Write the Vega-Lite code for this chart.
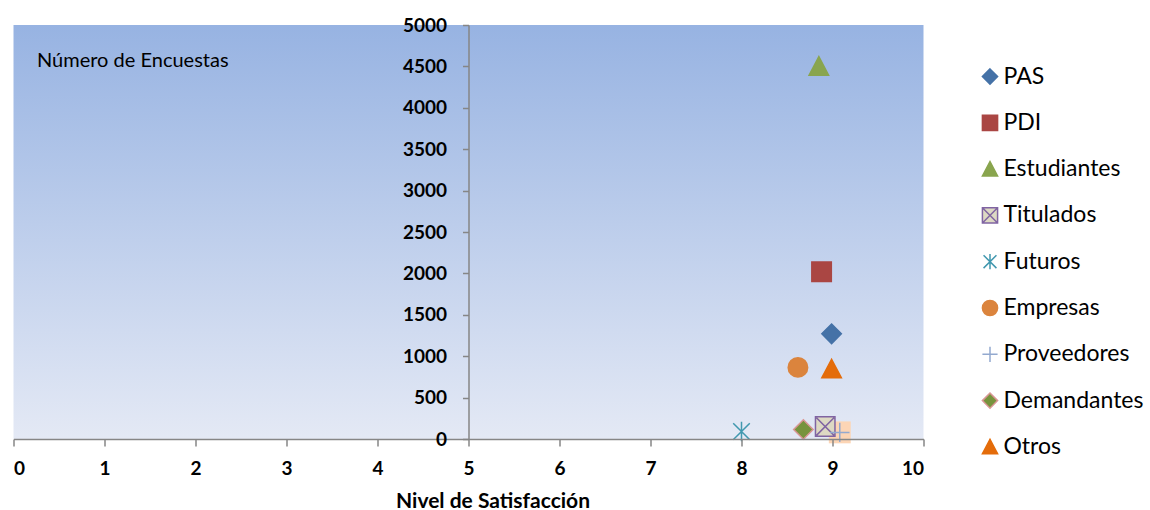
{
  "$schema": "https://vega.github.io/schema/vega-lite/v6.json",
  "autosize": {"type": "none"},
  "padding": {"left": 13.5, "top": 25, "right": 226.5, "bottom": 71},
  "width": 910,
  "height": 414,
  "background": "white",
  "config": {
    "view": {"stroke": null},
    "font": "Lato",
    "axis": {"grid": false, "domainColor": "#868686", "tickColor": "#868686", "domainWidth": 1.5, "tickWidth": 1.5, "labelColor": "#000000", "labelFont": "Lato", "labelFontWeight": "bold", "labelFontSize": 19, "titleFont": "Lato", "titleColor": "#000000"}
  },
  "layer": [
    {
      "data": {"values": [{"bg": 1}]},
      "mark": {"type": "rect", "color": {"gradient": "linear", "x1": 0, "y1": 0, "x2": 0, "y2": 1, "stops": [{"offset": 0, "color": "#97b3e2"}, {"offset": 1, "color": "#e4e9f5"}]}},
      "encoding": {
        "x": {"datum": 0, "type": "quantitative"},
        "x2": {"datum": 10},
        "y": {"datum": 5000, "type": "quantitative"},
        "y2": {"datum": 0}
      }
    },
    {
      "data": {"values": [{"series": "Proveedores", "sat": 9.08, "n": 80}]},
      "mark": {"type": "point", "shape": "square", "filled": true, "size": 480, "color": "#fcd5b5", "opacity": 1},
      "encoding": {
        "x": {"field": "sat", "type": "quantitative"},
        "y": {"field": "n", "type": "quantitative"}
      }
    },
    {
      "data": {"values": [
        {"series": "PAS", "sat": 8.99, "n": 1270},
        {"series": "PDI", "sat": 8.88, "n": 2020},
        {"series": "Estudiantes", "sat": 8.85, "n": 4500},
        {"series": "Titulados", "sat": 8.92, "n": 150},
        {"series": "Futuros", "sat": 8.0, "n": 90},
        {"series": "Empresas", "sat": 8.62, "n": 865},
        {"series": "Proveedores", "sat": 9.08, "n": 80},
        {"series": "Demandantes", "sat": 8.68, "n": 115},
        {"series": "Otros", "sat": 8.99, "n": 845}
      ]},
      "mark": {"type": "point", "filled": true, "size": 380, "strokeWidth": 1.5, "opacity": 1},
      "encoding": {
        "x": {"field": "sat", "type": "quantitative", "scale": {"domain": [0, 10], "nice": false, "zero": false},
          "axis": {"zindex": 2, "title": "Nivel de Satisfacción", "titleFontSize": 21, "titleFontWeight": "bold", "titlePadding": 12, "titleX": 479, "titleAnchor": "start", "titleAlign": "center", "values": [0,1,2,3,4,5,6,7,8,9,10], "format": "d", "tickSize": 7, "labelPadding": 13}},
        "y": {"field": "n", "type": "quantitative", "scale": {"domain": [0, 5000], "nice": false},
          "axis": {"zindex": 2, "offset": -455, "values": [0,500,1000,1500,2000,2500,3000,3500,4000,4500,5000], "format": "d", "tickSize": 6, "labelPadding": 16,
            "title": "Número de Encuestas", "titleAngle": 0, "titleAlign": "left", "titleBaseline": "middle", "titleFontWeight": "normal", "titleFontSize": 20, "titleX": -432, "titleY": 35}},
        "shape": {"field": "series", "type": "nominal",
          "scale": {"domain": ["PAS","PDI","Estudiantes","Titulados","Futuros","Empresas","Proveedores","Demandantes","Otros"],
            "range": ["M0,-1L1,0L0,1L-1,0Z", "M-1,-1H1V1H-1Z", "M0,-1L1,0.9L-1,0.9Z", "M-1,-1H1V1H-1Z M-0.9,-0.9L0.9,0.9M-0.9,0.9L0.9,-0.9", "M-0.85,-0.85L0.85,0.85M-0.85,0.85L0.85,-0.85M0,-1V1", "circle", "M-1,0H1M0,-1V1", "M0,-1L1,0L0,1L-1,0Z", "M0,-1L1,0.9L-1,0.9Z"]},
          "legend": {"title": null, "orient": "none", "legendX": 965, "legendY": 40, "labelFont": "Lato", "labelFontSize": 23, "labelColor": "#000000", "symbolSize": 230, "symbolStrokeWidth": 1.5, "rowPadding": 22.3, "labelOffset": 2, "padding": 0}},
        "fill": {"field": "series", "type": "nominal",
          "scale": {"domain": ["PAS","PDI","Estudiantes","Titulados","Futuros","Empresas","Proveedores","Demandantes","Otros"],
            "range": ["#4572a7", "#aa4643", "#89a54e", "#ddd9c3", "#4198af", "#db843d", "#93a9cf", "#77933c", "#e46c0a"]}},
        "stroke": {"field": "series", "type": "nominal",
          "scale": {"domain": ["PAS","PDI","Estudiantes","Titulados","Futuros","Empresas","Proveedores","Demandantes","Otros"],
            "range": ["#4572a7", "#aa4643", "#89a54e", "#8064a2", "#4198af", "#db843d", "#93a9cf", "#d99694", "#e46c0a"]}}
      }
    }
  ]
}
